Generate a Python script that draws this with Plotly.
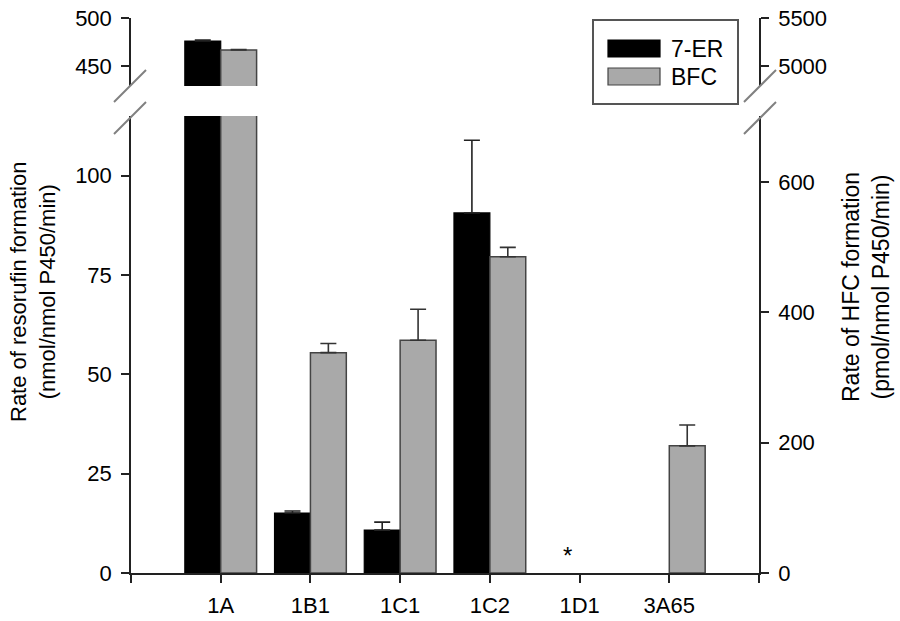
import plotly.graph_objects as go

# data
categories = ["1A", "1B1", "1C1", "1C2", "1D1", "3A65"]
er7_rate = [476, 15.1, 10.8, 90.6, None, None]          # nmol/nmol P450/min (left axis)
er7_err = [1.0, 0.5, 2.0, 18.3, None, None]
bfc_rate = [5167, 338, 357, 485, None, 195]             # pmol/nmol P450/min (right axis)
bfc_err = [4, 14, 47.5, 14.5, None, 32]
not_detected = ["1D1"]

left_low_ticks = [0, 25, 50, 75, 100]
left_high_ticks = [450, 500]
right_low_ticks = [0, 200, 400, 600]
right_high_ticks = [5000, 5500]

# plot box in pixels (screen coordinates of the reference)
W, H = 900, 621
L, R, T, B = 131, 759, 18, 573

FONT = "Liberation Sans, Arial, Helvetica, sans-serif"
GREY = "#a9a9a9"
EDGE = "#444444"


def px_x(x):
    return (x - L) / (R - L)


def px_y(y):
    return (B - y) / (B - T)


low_domain = [0, px_y(116)]
high_domain = [px_y(86), 1]

xs = list(range(len(categories)))

fig = go.Figure()


def add_pair(xaxis, yleft, yright):
    fig.add_trace(go.Bar(
        x=xs, y=er7_rate, name="7-ER", xaxis=xaxis, yaxis=yleft,
        width=0.4, offset=-0.4,
        marker=dict(color="black", line=dict(color="black", width=1.2)),
        error_y=dict(type="data", symmetric=False, array=er7_err,
                     arrayminus=[0] * len(er7_err), color="#222222",
                     thickness=1.6, width=8),
        showlegend=False,
    ))
    fig.add_trace(go.Bar(
        x=xs, y=bfc_rate, name="BFC", xaxis=xaxis, yaxis=yright,
        width=0.4, offset=0,
        marker=dict(color=GREY, line=dict(color=EDGE, width=1.5)),
        error_y=dict(type="data", symmetric=False, array=bfc_err,
                     arrayminus=[0] * len(bfc_err), color="#333333",
                     thickness=1.6, width=8),
        showlegend=False,
    ))


add_pair("x", "y", "y2")
add_pair("x2", "y3", "y4")

axis_common = dict(
    showline=True, linecolor="#222222", linewidth=1.5,
    ticks="outside", ticklen=8, tickwidth=1.5, tickcolor="#222222",
    showgrid=False, zeroline=False, automargin=False,
    ticklabeloverflow="allow",
    tickfont=dict(size=22, color="black", family=FONT),
)

fig.update_layout(
    width=W, height=H,
    margin=dict(l=L, r=W - R, t=T, b=H - B, autoexpand=False),
    paper_bgcolor="white", plot_bgcolor="white",
    barmode="overlay",
    showlegend=False,
    font=dict(family=FONT, color="black"),
    xaxis=dict(
        **axis_common,
        range=[-1, len(categories)], domain=[0, 1], anchor="y",
        tickvals=list(range(-1, len(categories) + 1)),
        ticktext=[""] + categories + [""],
        ticklabelstandoff=4,
    ),
    xaxis2=dict(range=[-1, len(categories)], domain=[0, 1], anchor="y3",
                visible=False, matches="x"),
    yaxis=dict(**axis_common, domain=low_domain, range=[0, 115],
               tickvals=left_low_ticks, anchor="x", ticklabelstandoff=5),
    yaxis2=dict(**axis_common, domain=low_domain, range=[0, 701],
                tickvals=right_low_ticks, overlaying="y", side="right",
                anchor="x", ticklabelstandoff=5),
    yaxis3=dict(**axis_common, domain=high_domain, range=[429, 500],
                tickvals=left_high_ticks, anchor="x2", ticklabelstandoff=5),
    yaxis4=dict(**axis_common, domain=high_domain, range=[4792, 5500],
                tickvals=right_high_ticks, overlaying="y3", side="right",
                anchor="x2", ticklabelstandoff=5),
)

# axis titles
fig.add_annotation(
    text="Rate of resorufin formation<br>(nmol/nmol P450/min)",
    xref="paper", yref="paper", x=0, y=px_y(292), xshift=33 - L,
    xanchor="center", yanchor="middle", textangle=-90, showarrow=False,
    font=dict(size=22, family=FONT, color="black"),
)
fig.add_annotation(
    text="Rate of HFC formation<br>(pmol/nmol P450/min)",
    xref="paper", yref="paper", x=1, y=px_y(287), xshift=866 - R,
    xanchor="center", yanchor="middle", textangle=-90, showarrow=False,
    font=dict(size=23, family=FONT, color="black"),
)

# not-detected marker
for cat in not_detected:
    fig.add_annotation(
        text="*", x=categories.index(cat), y=0, xref="x", yref="y",
        xshift=-12, yshift=2, yanchor="bottom", showarrow=False,
        font=dict(size=24, family=FONT, color="black"),
    )

# axis break marks
for cx in (130, 760):
    for cy in (86, 118):
        fig.add_shape(type="line", xref="paper", yref="paper",
                      x0=px_x(cx - 16), y0=px_y(cy + 16),
                      x1=px_x(cx + 16), y1=px_y(cy - 16),
                      line=dict(color="#808080", width=2))

# legend box drawn by hand to get wide swatches
fig.add_shape(type="rect", xref="paper", yref="paper",
              x0=px_x(593), x1=px_x(738), y0=px_y(104), y1=px_y(20),
              line=dict(color="#555555", width=2), fillcolor="white")
for i, (name, fill, edge) in enumerate([("7-ER", "black", "black"),
                                         ("BFC", GREY, EDGE)]):
    top = 40 + i * 28
    fig.add_shape(type="rect", xref="paper", yref="paper",
                  x0=px_x(608), x1=px_x(660), y0=px_y(top + 17), y1=px_y(top),
                  line=dict(color=edge, width=1.2), fillcolor=fill)
    fig.add_annotation(text=name, xref="paper", yref="paper",
                       x=px_x(669), y=px_y(top + 8.5), xanchor="left",
                       yanchor="middle", showarrow=False,
                       font=dict(size=23, family=FONT, color="black"))

# drop the default body margin so the figure sits at the window corner
fig.write_html("out.html", config={"displayModeBar": False},
               post_script="document.body.style.margin='0';")
